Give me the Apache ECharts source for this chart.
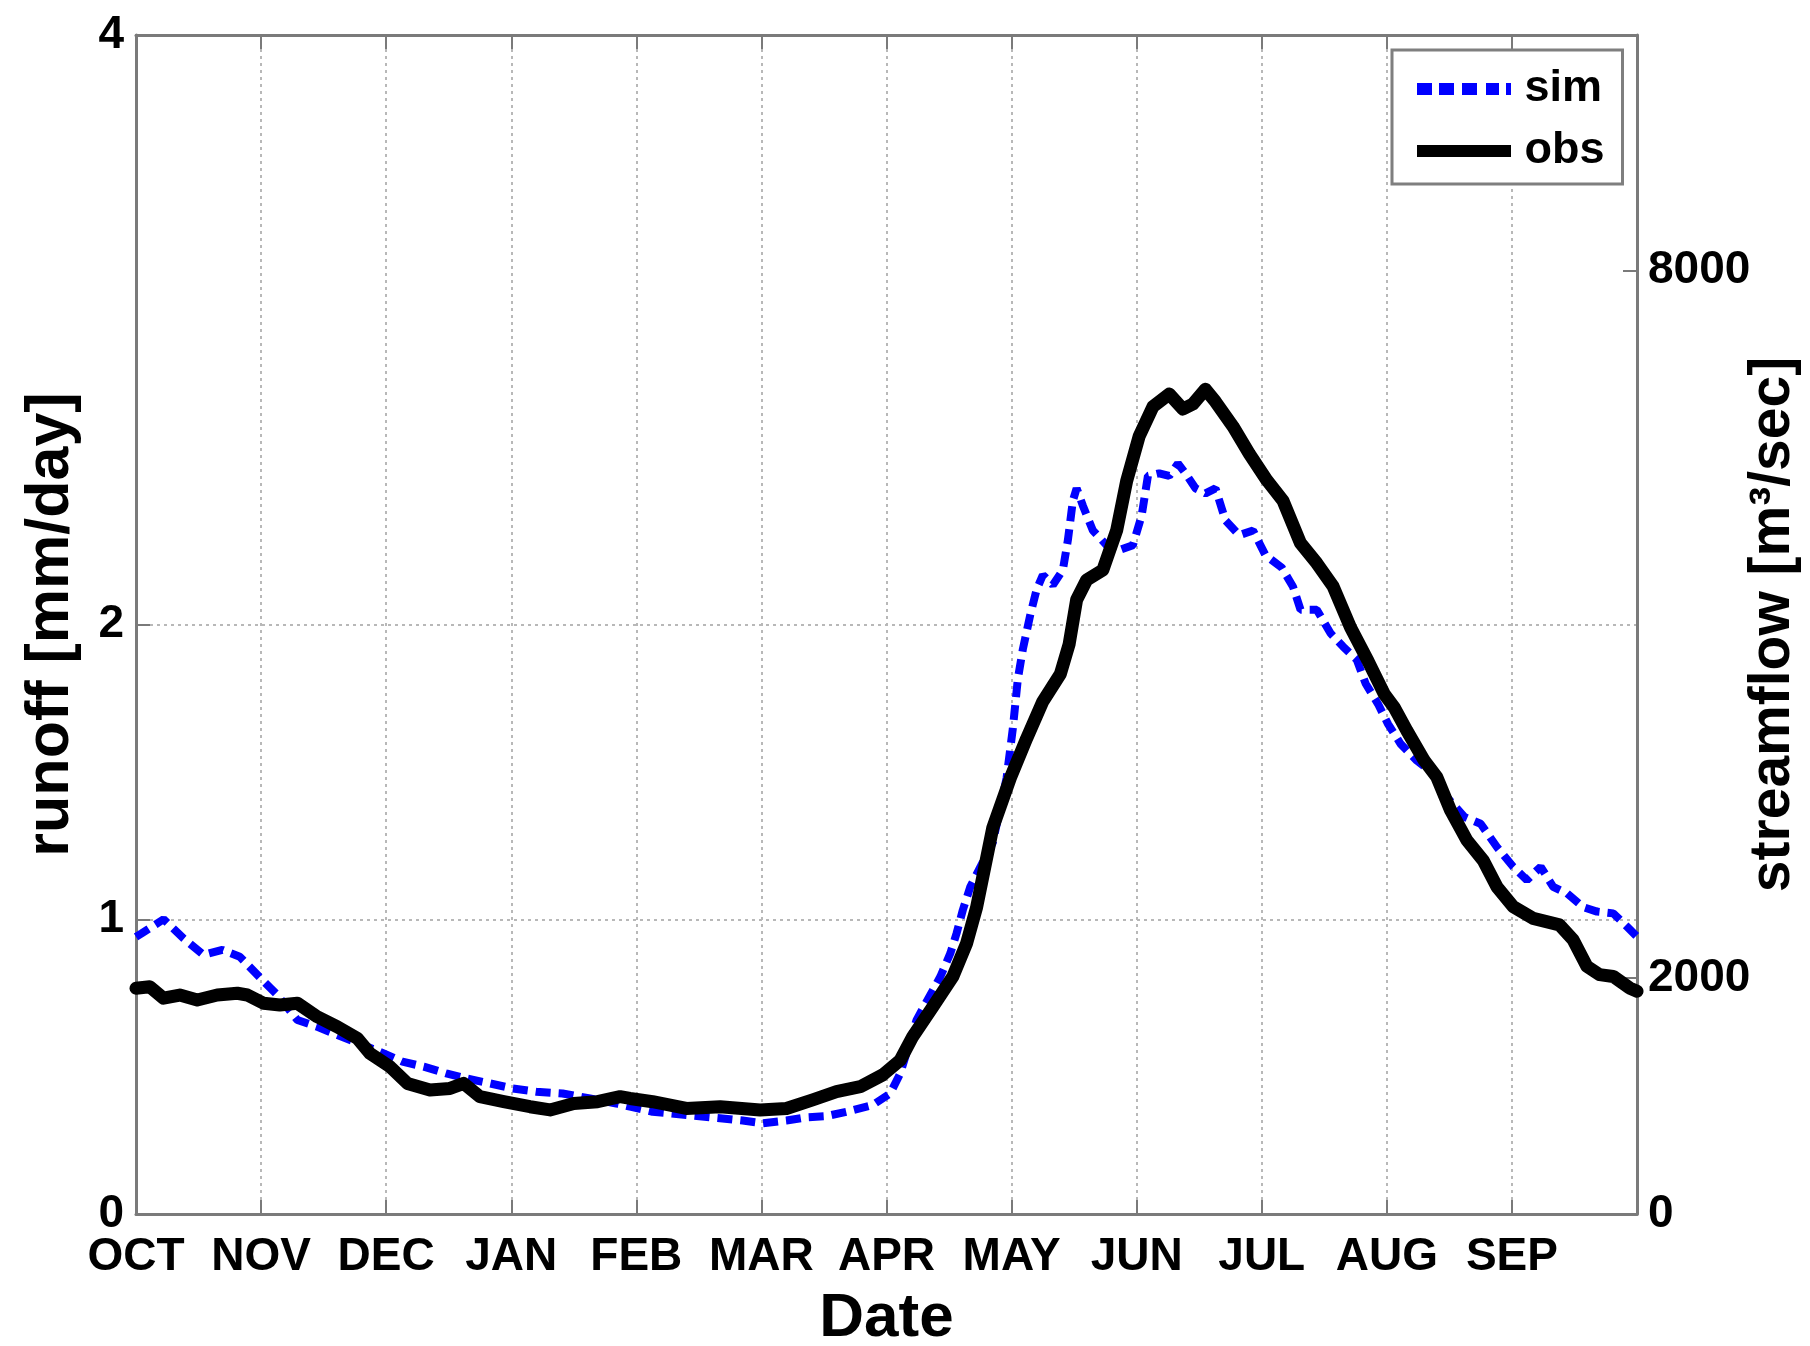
<!DOCTYPE html>
<html>
<head>
<meta charset="utf-8">
<script src="https://cdn.jsdelivr.net/npm/echarts@6/dist/echarts.min.js"></script>
<style>
  html, body { margin: 0; padding: 0; background: #ffffff; }
  #chart { width: 1810px; height: 1346px; }
</style>
</head>
<body>
<div id="chart"></div>
<script>
// ---- tick labels ----
const MONTHS = ['OCT', 'NOV', 'DEC', 'JAN', 'FEB', 'MAR', 'APR', 'MAY', 'JUN', 'JUL', 'AUG', 'SEP'];
const LEFT_TICKS = [0, 1, 2, 4];
const RIGHT_TICKS = [0, 2000, 8000];

// ---- simulated runoff (x in months since Oct 1, y in mm/day) ----
const simMonth = [0.0, 0.045, 0.22, 0.38, 0.54, 0.69, 0.83, 1.01, 1.13, 1.29, 1.45, 1.61, 1.82, 1.98, 2.13, 2.30,
  2.48, 2.64, 2.83, 3.01, 3.20, 3.41, 3.63, 3.84, 3.95, 4.13, 4.40, 4.67, 4.85, 5.01, 5.20, 5.36, 5.52, 5.68,
  5.89, 6.03, 6.11, 6.24, 6.43, 6.51, 6.56, 6.61, 6.67, 6.85, 6.96, 7.01, 7.05, 7.09, 7.15, 7.20, 7.25, 7.33,
  7.41, 7.45, 7.49, 7.52, 7.57, 7.65, 7.76, 7.86, 7.97, 8.04, 8.09, 8.18, 8.26, 8.33, 8.39, 8.47, 8.55, 8.63,
  8.71, 8.82, 8.93, 9.03, 9.16, 9.25, 9.31, 9.44, 9.55, 9.65, 9.76, 9.83, 9.93, 10.01, 10.11, 10.24, 10.38,
  10.48, 10.62, 10.75, 10.88, 11.01, 11.12, 11.23, 11.33, 11.44, 11.57, 11.68, 11.81, 11.92, 12.0];
const simRunoff = [0.94, 0.952, 1.0, 0.935, 0.879, 0.896, 0.873, 0.794, 0.743, 0.658, 0.635, 0.607, 0.573, 0.545, 0.517, 0.500,
  0.477, 0.460, 0.443, 0.426, 0.415, 0.409, 0.392, 0.375, 0.364, 0.347, 0.336, 0.325, 0.317, 0.308, 0.317, 0.328, 0.332, 0.347,
  0.370, 0.409, 0.477, 0.658, 0.805, 0.884, 0.952, 1.031, 1.110, 1.261, 1.479, 1.647, 1.815, 1.916, 2.034, 2.118, 2.168, 2.134,
  2.185, 2.286, 2.420, 2.462, 2.403, 2.319, 2.269, 2.252, 2.269, 2.370, 2.504, 2.513, 2.504, 2.546, 2.513, 2.462, 2.445, 2.462,
  2.353, 2.303, 2.319, 2.235, 2.193, 2.128, 2.05, 2.05, 1.97, 1.925, 1.88, 1.80, 1.730, 1.662, 1.595, 1.538, 1.493,
  1.414, 1.347, 1.324, 1.245, 1.178, 1.133, 1.178, 1.110, 1.088, 1.041, 1.026, 1.020, 0.975, 0.941];

// ---- observed runoff ----
const obsMonth = [0.0, 0.11, 0.22, 0.35, 0.49, 0.65, 0.81, 0.89, 1.02, 1.15, 1.29, 1.45, 1.61, 1.77, 1.87, 2.03,
  2.17, 2.35, 2.51, 2.62, 2.75, 2.94, 3.15, 3.31, 3.50, 3.69, 3.87, 3.95, 4.13, 4.40, 4.67, 4.99, 5.20, 5.41,
  5.60, 5.79, 5.97, 6.11, 6.21, 6.37, 6.53, 6.64, 6.72, 6.85, 6.99, 7.12, 7.25, 7.39, 7.46, 7.52, 7.60, 7.73,
  7.84, 7.92, 8.02, 8.13, 8.26, 8.37, 8.45, 8.55, 8.63, 8.77, 8.90, 9.04, 9.17, 9.31, 9.44, 9.57, 9.71, 9.85,
  9.98, 10.06, 10.16, 10.30, 10.40, 10.51, 10.64, 10.77, 10.88, 11.01, 11.17, 11.38, 11.49, 11.60, 11.70,
  11.81, 11.94, 12.0];
const obsRunoff = [0.766, 0.771, 0.732, 0.743, 0.726, 0.743, 0.749, 0.743, 0.715, 0.709, 0.715, 0.669, 0.635, 0.596, 0.545, 0.500,
  0.443, 0.421, 0.426, 0.443, 0.398, 0.381, 0.364, 0.353, 0.375, 0.381, 0.398, 0.392, 0.381, 0.358, 0.364, 0.353, 0.358, 0.387,
  0.415, 0.432, 0.472, 0.522, 0.602, 0.703, 0.805, 0.918, 1.040, 1.311, 1.479, 1.613, 1.739, 1.832, 1.933, 2.084, 2.151, 2.185,
  2.319, 2.487, 2.639, 2.739, 2.782, 2.731, 2.748, 2.798, 2.756, 2.672, 2.58, 2.49, 2.42, 2.276, 2.208, 2.13, 1.99, 1.876,
  1.764, 1.718, 1.640, 1.538, 1.482, 1.369, 1.268, 1.200, 1.110, 1.043, 1.003, 0.981, 0.930, 0.840, 0.812,
  0.806, 0.767, 0.756];

const pairs = (xs, ys) => xs.map((x, i) => [x, ys[i]]);

const FONT = '"Liberation Sans", Arial, Helvetica, sans-serif';
const AXIS_COLOR = '#7a7a7a';
const GRID_STYLE = { color: '#b8b8b8', width: 2, type: [3, 4] };

// legend glyphs: dashed blue line and solid black bar
const SIM_ICON = 'path://M0,0h15v12h-15z M22,0h15v12h-15z M45,0h15v12h-15z M69,0h13v12h-13z M89,0h5v12h-5z';
const OBS_ICON = 'path://M0,0h94v12h-94z';

const chart = echarts.init(document.getElementById('chart'), null, { renderer: 'canvas' });

const option = {
  backgroundColor: '#ffffff',
  animation: false,
  textStyle: { fontFamily: FONT },
  grid: { left: 136, right: 173, top: 35, bottom: 132, containLabel: false, outerBoundsMode: 'none' },
  legend: {
    left: 1392, top: 50,
    orient: 'vertical',
    padding: [16, 18, 10, 25],
    itemGap: 16,
    itemWidth: 95,
    itemHeight: 12,
    borderColor: '#7f7f7f',
    borderWidth: 3,
    backgroundColor: '#ffffff',
    textStyle: { fontFamily: FONT, fontWeight: 'bold', fontSize: 45, lineHeight: 46, color: '#000', padding: [0, 0, 0, 8] },
    data: [
      { name: 'sim', icon: SIM_ICON, itemStyle: { color: '#0000ff', borderWidth: 0 } },
      { name: 'obs', icon: OBS_ICON, itemStyle: { color: '#000000', borderWidth: 0 } }
    ]
  },
  xAxis: [
    {
      type: 'value', position: 'bottom', min: 0, max: 12, interval: 1,
      name: 'Date', nameLocation: 'middle', nameGap: 74, nameMoveOverlap: false,
      nameTextStyle: { fontFamily: FONT, fontWeight: 'bold', fontSize: 62, color: '#000' },
      axisLine: { show: true, onZero: false, lineStyle: { color: AXIS_COLOR, width: 3 } },
      axisTick: { show: true, inside: true, length: 14, lineStyle: { color: AXIS_COLOR, width: 2 } },
      axisLabel: {
        show: true, margin: 20, fontFamily: FONT, fontWeight: 'bold', fontSize: 46, color: '#000',
        formatter: v => (MONTHS[Math.round(v)] !== undefined ? MONTHS[Math.round(v)] : '')
      },
      splitLine: { show: true, lineStyle: GRID_STYLE }
    },
    {
      type: 'value', position: 'top', min: 0, max: 12, interval: 1,
      axisLine: { show: true, onZero: false, lineStyle: { color: AXIS_COLOR, width: 3 } },
      axisTick: { show: true, inside: true, length: 14, lineStyle: { color: AXIS_COLOR, width: 2 } },
      axisLabel: { show: false },
      splitLine: { show: false }
    }
  ],
  yAxis: [
    {
      type: 'value', position: 'left', min: 0, max: 4, interval: 1,
      name: 'runoff [mm/day]', nameLocation: 'middle', nameRotate: 90, nameGap: 54, nameMoveOverlap: false,
      nameTextStyle: { fontFamily: FONT, fontWeight: 'bold', fontSize: 61, color: '#000' },
      axisLine: { show: true, onZero: false, lineStyle: { color: AXIS_COLOR, width: 3 } },
      axisTick: { show: true, inside: true, length: 14, customValues: LEFT_TICKS, lineStyle: { color: AXIS_COLOR, width: 2 } },
      axisLabel: {
        show: true, margin: 12, fontFamily: FONT, fontWeight: 'bold', fontSize: 46, color: '#000',
        customValues: LEFT_TICKS,
        formatter: v => (LEFT_TICKS.indexOf(v) >= 0 ? String(v) : '')
      },
      splitLine: { show: true, lineStyle: GRID_STYLE }
    },
    {
      type: 'value', position: 'right', min: 0, max: 10000, interval: 2000,
      name: 'streamflow [m³/sec]', nameLocation: 'middle', nameRotate: 90, nameGap: 108, nameMoveOverlap: false,
      nameTextStyle: { fontFamily: FONT, fontWeight: 'bold', fontSize: 57, color: '#000' },
      axisLine: { show: true, onZero: false, lineStyle: { color: AXIS_COLOR, width: 3 } },
      axisTick: { show: true, inside: true, length: 14, customValues: RIGHT_TICKS, lineStyle: { color: AXIS_COLOR, width: 2 } },
      axisLabel: {
        show: true, margin: 11, fontFamily: FONT, fontWeight: 'bold', fontSize: 46, color: '#000',
        customValues: RIGHT_TICKS,
        formatter: v => (RIGHT_TICKS.indexOf(v) >= 0 ? String(v) : '')
      },
      splitLine: { show: false }
    }
  ],
  series: [
    {
      name: 'sim', type: 'line', xAxisIndex: 0, yAxisIndex: 0,
      data: pairs(simMonth, simRunoff),
      showSymbol: false, symbol: 'none', smooth: false,
      lineStyle: { color: '#0000ff', width: 8, type: [15, 8], cap: 'butt' },
      itemStyle: { color: '#0000ff' },
      z: 3
    },
    {
      name: 'obs', type: 'line', xAxisIndex: 0, yAxisIndex: 0,
      data: pairs(obsMonth, obsRunoff),
      showSymbol: false, symbol: 'none', smooth: false,
      lineStyle: { color: '#000000', width: 13, type: 'solid', join: 'round', cap: 'round' },
      itemStyle: { color: '#000000' },
      z: 4
    }
  ]
};

chart.setOption(option);
</script>
</body>
</html>
